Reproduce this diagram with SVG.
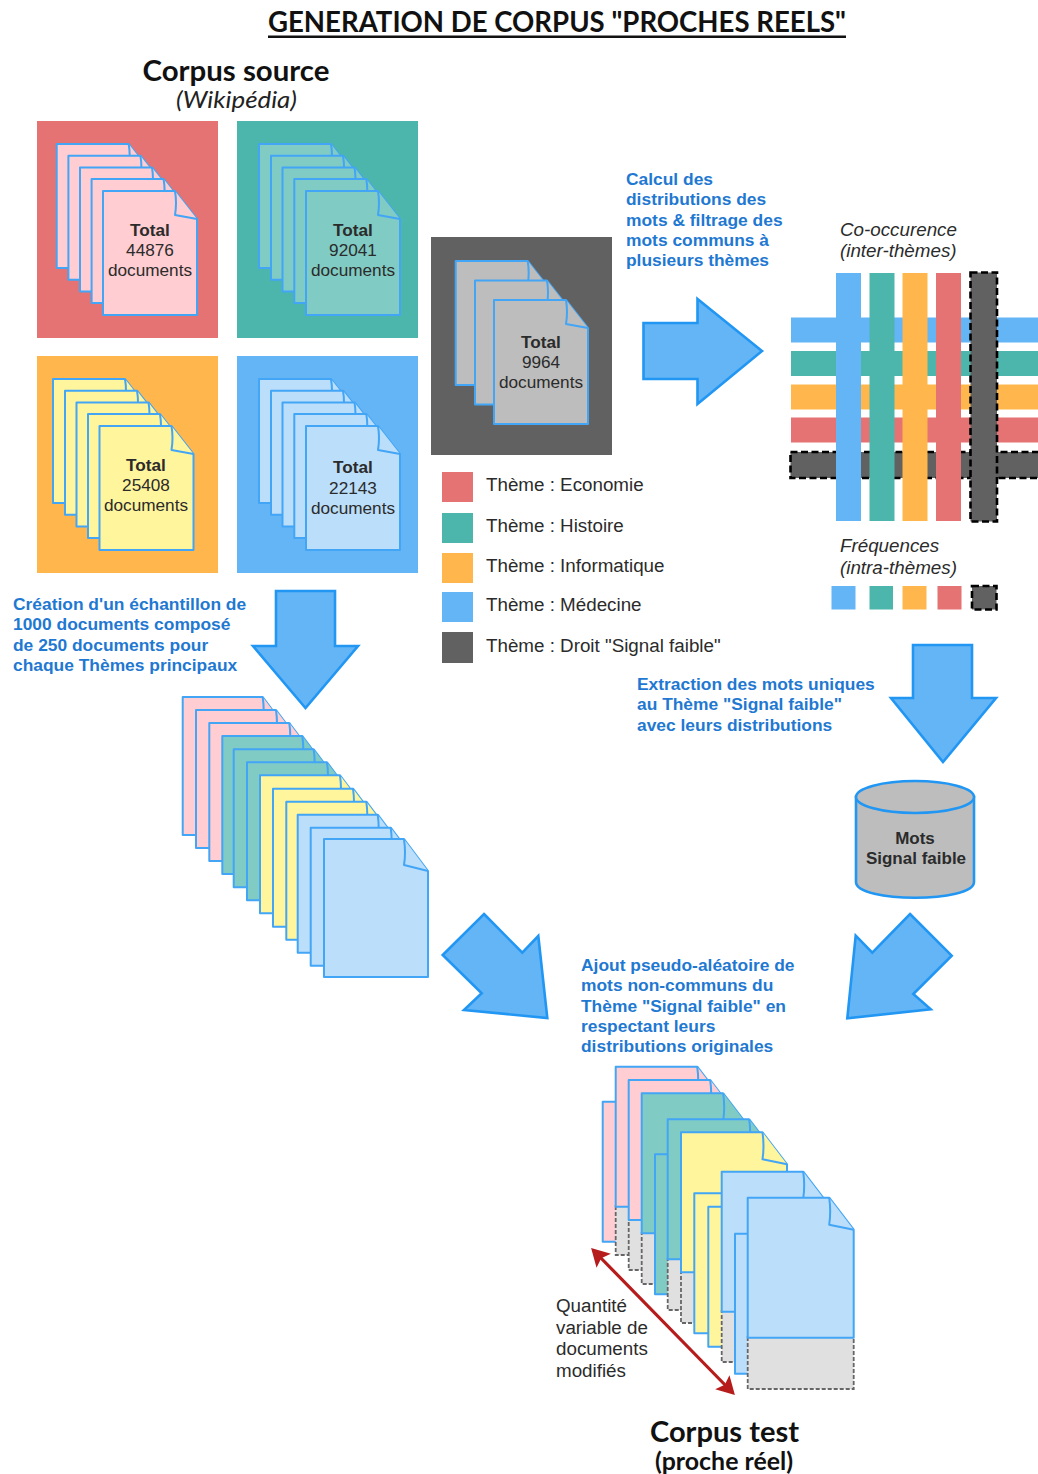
<svg xmlns="http://www.w3.org/2000/svg" width="1038" height="1474" viewBox="0 0 1038 1474">
<style>
text{font-family:"Liberation Sans",Arial,sans-serif;font-size:17.2px;fill:#2b2b2b}
.h{font-family:Lato,"Liberation Sans",sans-serif;font-weight:700;fill:#111}
.b{font-weight:700}
.c{text-anchor:middle}
.w{font-size:18.8px}
.i{font-style:italic}
.n{font-weight:700;fill:#1f78d1;font-size:17.4px}
.doc{stroke:#42a5f5;stroke-width:2;stroke-linejoin:round}
.pk{fill:#ffcdd2}.tl{fill:#80cbc4}.yl{fill:#fff59d}.bl{fill:#bbdefb}.gy{fill:#bdbdbd}
.R{fill:#e57373}.T{fill:#4db6ac}.O{fill:#ffb74d}.B{fill:#64b5f6}.D{fill:#616161}
.dk{fill:#616161;stroke:#000;stroke-width:2.6;stroke-dasharray:7 3.5}
.mod{fill:#e0e0e0;stroke:#666;stroke-width:1.8;stroke-dasharray:4 2}
.ar{fill:#64b5f6;stroke:#2196f3;stroke-width:2.6;stroke-linejoin:miter}
</style>
<defs>
<g id="d94"><path d="M0 0H72L94 28V124H0Z"/><path d="M72 0Q74 12 72 24L94 28"/></g>
<g id="d104"><path d="M0 0H80L104 32V138H0Z"/><path d="M80 0Q82 14 80 26L104 32"/></g>
<g id="d106"><path d="M0 0H81.500L106 32V140H0Z"/><path d="M81.500 0Q83.500 14 81.500 27L106 32"/></g>
<marker id="rh" markerUnits="userSpaceOnUse" markerWidth="20" markerHeight="22" viewBox="0 0 20 22" refX="12" refY="11" orient="auto-start-reverse"><path d="M19 11L1 1L4.500 11L1 21Z" fill="#b71c1c"/></marker>
</defs>

<g id="title">
<text class="h c" x="557" y="32" style="font-size:29px" textLength="578" lengthAdjust="spacingAndGlyphs">GENERATION DE CORPUS "PROCHES REELS"</text>
<rect x="268" y="35.500" width="578" height="2.500" fill="#111"/>
</g>
<g id="corpus-source-title">
<text class="h c" x="236" y="81" style="font-size:28px" textLength="187" lengthAdjust="spacingAndGlyphs">Corpus source</text>
<text class="h c" x="236.500" y="108" style="font-size:23px;font-weight:400;font-style:italic;fill:#222" textLength="121" lengthAdjust="spacingAndGlyphs">(Wikipédia)</text>
</g>

<g id="source-economie">
<rect class="R" x="37" y="121" width="181" height="217"/>
<g class="doc pk"><use href="#d94" x="56.700" y="144"/><use href="#d94" x="68.400" y="155.700"/><use href="#d94" x="80" y="167.400"/><use href="#d94" x="91.600" y="179"/><use href="#d94" x="103" y="191"/></g>
<text class="c b" x="150" y="236">Total</text><text class="c" x="150" y="256">44876</text><text class="c" x="150" y="276">documents</text>
</g>
<g id="source-histoire">
<rect class="T" x="237" y="121" width="181" height="217"/>
<g class="doc tl"><use href="#d94" x="259" y="144"/><use href="#d94" x="271" y="155.700"/><use href="#d94" x="282.500" y="167.400"/><use href="#d94" x="294.300" y="179"/><use href="#d94" x="306" y="191"/></g>
<text class="c b" x="353" y="236">Total</text><text class="c" x="353" y="256">92041</text><text class="c" x="353" y="276">documents</text>
</g>
<g id="source-informatique">
<rect class="O" x="37" y="356" width="181" height="217"/>
<g class="doc yl"><use href="#d94" x="53" y="379"/><use href="#d94" x="65" y="390.700"/><use href="#d94" x="76.500" y="402.400"/><use href="#d94" x="88" y="414"/><use href="#d94" x="99.500" y="426"/></g>
<text class="c b" x="146" y="471">Total</text><text class="c" x="146" y="491">25408</text><text class="c" x="146" y="511">documents</text>
</g>
<g id="source-medecine">
<rect class="B" x="237" y="356" width="181" height="217"/>
<g class="doc bl"><use href="#d94" x="259" y="379"/><use href="#d94" x="271" y="390.700"/><use href="#d94" x="282.500" y="402.400"/><use href="#d94" x="294.300" y="414"/><use href="#d94" x="306" y="426"/></g>
<text class="c b" x="353" y="473">Total</text><text class="c" x="353" y="494">22143</text><text class="c" x="353" y="514">documents</text>
</g>
<g id="source-droit">
<rect class="D" x="431" y="237" width="181" height="218"/>
<g class="doc gy"><use href="#d94" x="455.700" y="261"/><use href="#d94" x="475" y="280.500"/><use href="#d94" x="494" y="300"/></g>
<text class="c b" x="541" y="348">Total</text><text class="c" x="541" y="368">9964</text><text class="c" x="541" y="388">documents</text>
</g>

<g id="legend">
<rect class="R" x="442" y="472" width="31" height="30"/><text class="w" x="486" y="491">Thème : Economie</text>
<rect class="T" x="442" y="513" width="31" height="30"/><text class="w" x="486" y="532">Thème : Histoire</text>
<rect class="O" x="442" y="553" width="31" height="30"/><text class="w" x="486" y="572">Thème : Informatique</text>
<rect class="B" x="442" y="592" width="31" height="30"/><text class="w" x="486" y="611">Thème : Médecine</text>
<rect class="D" x="442" y="632" width="31" height="31"/><text class="w" x="486" y="652">Thème : Droit "Signal faible"</text>
</g>

<g id="note-distributions">
<text class="n" x="626" y="185">Calcul des</text><text class="n" x="626" y="205">distributions des</text><text class="n" x="626" y="226">mots &amp; filtrage des</text><text class="n" x="626" y="246">mots communs à</text><text class="n" x="626" y="266">plusieurs thèmes</text>
</g>
<g id="note-echantillon">
<text class="n" x="13" y="610">Création d'un échantillon de</text><text class="n" x="13" y="630">1000 documents composé</text><text class="n" x="13" y="651">de 250 documents pour</text><text class="n" x="13" y="671">chaque Thèmes principaux</text>
</g>
<g id="note-extraction">
<text class="n" x="637" y="690">Extraction des mots uniques</text><text class="n" x="637" y="710">au Thème "Signal faible"</text><text class="n" x="637" y="731">avec leurs distributions</text>
</g>
<g id="note-ajout">
<text class="n" x="581" y="971">Ajout pseudo-aléatoire de</text><text class="n" x="581" y="991">mots non-communs du</text><text class="n" x="581" y="1012">Thème "Signal faible" en</text><text class="n" x="581" y="1032">respectant leurs</text><text class="n" x="581" y="1052">distributions originales</text>
</g>

<g id="cooccurrence">
<text class="i w" x="840" y="236">Co-occurence</text><text class="i w" x="840" y="257">(inter-thèmes)</text>
<rect class="B" x="791" y="317.500" width="247" height="25"/>
<rect class="T" x="791" y="351" width="247" height="25"/>
<rect class="O" x="791" y="384.500" width="247" height="25"/>
<rect class="R" x="791" y="417.500" width="247" height="25"/>
<rect class="dk" x="790.500" y="452" width="252" height="26"/>
<rect class="B" x="836" y="273" width="25" height="248"/>
<rect class="T" x="869.500" y="273" width="25" height="248"/>
<rect class="O" x="902.500" y="273" width="25" height="248"/>
<rect class="R" x="936" y="273" width="25" height="248"/>
<rect class="dk" x="970.500" y="272.500" width="26.500" height="249"/>
</g>
<g id="frequences">
<text class="i w" x="840" y="552">Fréquences</text><text class="i w" x="840" y="574">(intra-thèmes)</text>
<rect class="B" x="831.500" y="586" width="24" height="23.500"/>
<rect class="T" x="869.500" y="586" width="23.500" height="23.500"/>
<rect class="O" x="902.500" y="586" width="24" height="23.500"/>
<rect class="R" x="937.500" y="586" width="24" height="23.500"/>
<rect class="dk" x="972" y="586" width="24.500" height="23.500"/>
</g>

<g id="echantillon">
<g class="doc pk"><use href="#d104" x="182.700" y="697"/><use href="#d104" x="196" y="710"/><use href="#d104" x="209.300" y="723"/></g>
<g class="doc tl"><use href="#d104" x="222.300" y="736"/><use href="#d104" x="233.700" y="749.300"/><use href="#d104" x="247" y="762.300"/></g>
<g class="doc yl"><use href="#d104" x="260" y="775.300"/><use href="#d104" x="273" y="788.700"/><use href="#d104" x="286.300" y="801.700"/></g>
<g class="doc bl"><use href="#d104" x="297.700" y="814.700"/><use href="#d104" x="310.700" y="827.700"/><use href="#d104" x="324" y="839"/></g>
</g>

<g id="mots-signal-faible">
<path d="M856 797V882C856 903 974 903 974 882V797Z" fill="#bdbdbd" stroke="#2196f3" stroke-width="2.600"/>
<ellipse cx="915" cy="797" rx="59" ry="16" fill="#bdbdbd" stroke="#2196f3" stroke-width="2.600"/>
<text class="c b" x="915" y="844" style="font-size:17px">Mots</text><text class="c b" x="916" y="864" style="font-size:17px">Signal faible</text>
</g>

<g id="corpus-test">
<g class="doc pk"><use href="#d106" x="602.700" y="1101.700"/></g>
<rect class="mod" x="615.700" y="1206" width="106" height="49"/><g class="doc pk"><use href="#d106" x="615.700" y="1066.700"/></g>
<rect class="mod" x="628.700" y="1220" width="106" height="50"/><g class="doc pk"><use href="#d106" x="628.700" y="1080"/></g>
<rect class="mod" x="641.700" y="1233" width="106" height="51"/><g class="doc tl"><use href="#d106" x="641.700" y="1093.300"/></g>
<g class="doc tl"><use href="#d106" x="655" y="1154.300"/></g>
<rect class="mod" x="667.700" y="1259" width="106" height="51"/><g class="doc tl"><use href="#d106" x="667.700" y="1119.300"/></g>
<rect class="mod" x="681" y="1272" width="106" height="51"/><g class="doc yl"><use href="#d106" x="681" y="1132.300"/></g>
<g class="doc yl"><use href="#d106" x="694.300" y="1193.300"/></g>
<g class="doc yl"><use href="#d106" x="708.300" y="1206.700"/></g>
<rect class="mod" x="721.700" y="1311" width="106" height="51"/><g class="doc bl"><use href="#d106" x="721.700" y="1171.700"/></g>
<g class="doc bl"><use href="#d106" x="735" y="1233.700"/></g>
<rect class="mod" x="747.700" y="1337" width="106" height="52"/><g class="doc bl"><use href="#d106" x="747.700" y="1197.700"/></g>
</g>
<g id="quantite">
<text class="w" x="556" y="1312">Quantité</text><text class="w" x="556" y="1334">variable de</text><text class="w" x="556" y="1355">documents</text><text class="w" x="556" y="1377">modifiés</text>
</g>
<g id="corpus-test-title">
<text class="h c" x="724.500" y="1442" style="font-size:28px" textLength="149" lengthAdjust="spacingAndGlyphs">Corpus test</text>
<text class="h c" x="724" y="1470" style="font-size:24px" textLength="138" lengthAdjust="spacingAndGlyphs">(proche réel)</text>
</g>

<g id="connectors">
<polygon class="ar" points="643.500,323 697.500,323 697.500,299 762,351 697.500,404 697.500,379 643.500,379"/>
<polygon class="ar" points="276,591 335,591 335,646 358,646 305.500,708 253,646 276,646"/>
<polygon class="ar" points="913,645 972,645 972,698 996,698 943,762 891,698 913,698"/>
<polygon class="ar" points="484,914 522.300,952.700 538.300,936 547.300,1018 464,1010 481.700,993.300 442.700,955"/>
<polygon class="ar" points="910,914 951.700,955.700 913.300,994 930.700,1009.300 847.300,1018.300 855.700,935.700 872.300,952.700"/>
<line x1="596" y1="1253" x2="730" y2="1390" stroke="#b71c1c" stroke-width="3.200" marker-start="url(#rh)" marker-end="url(#rh)"/>
</g>
</svg>
